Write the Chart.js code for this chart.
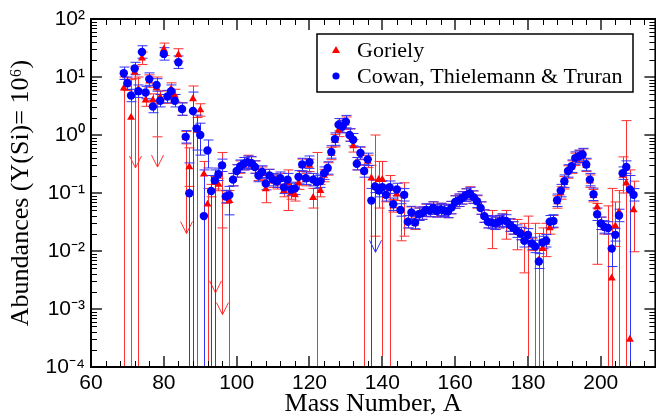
<!DOCTYPE html>
<html>
<head>
<meta charset="utf-8">
<script src="https://cdn.jsdelivr.net/npm/chart.js@4.4.0/dist/chart.umd.min.js"></script>
<style>
html, body { margin: 0; background: #fff; overflow: hidden; }
canvas { display: block; }
</style>
</head>
<body>
<!-- canvas is a little wider than the window: the right frame line falls just off the picture, as in the original -->
<canvas id="chartAbundances" width="660" height="420"></canvas>
<script>
// mass numbers shared by both data sets
var massNumbers = [
    69, 70, 71, 72, 73, 74, 75, 76, 77, 78,
    79, 80, 81, 82, 83, 84, 85, 86, 87, 88,
    89, 90, 91, 92, 93, 94, 95, 96, 97, 98,
    99, 100, 101, 102, 103, 104, 105, 106, 107, 108,
    109, 110, 111, 112, 113, 114, 115, 116, 117, 118,
    119, 120, 121, 122, 123, 124, 125, 126, 127, 128,
    129, 130, 131, 132, 133, 134, 135, 136, 137, 138,
    139, 140, 141, 142, 143, 144, 145, 146, 147, 148,
    149, 150, 151, 152, 153, 154, 155, 156, 157, 158,
    159, 160, 161, 162, 163, 164, 165, 166, 167, 168,
    169, 170, 171, 172, 173, 174, 175, 176, 177, 178,
    179, 180, 181, 182, 183, 184, 185, 186, 187, 188,
    189, 190, 191, 192, 193, 194, 195, 196, 197, 198,
    199, 200, 201, 202, 203, 204, 205, 206, 207, 208,
    209
];

var gorielyValues = [
    6.4, 7.5, 2.0, 12, 6.1, 21, 4.0, 8.5, 4.0, 6.5,
    4.5, 30, 4.5, 6.2, 4.8, 24, 2.8, 0.9, 0.28, 4.2,
    1.2, 2.7, 0.21, 0.064, 0.11, 0.15, 0.14, 0.3, 0.085, 0.074,
    0.17, 0.24, 0.28, 0.32, 0.35, 0.33, 0.28, 0.21, 0.22, 0.117,
    0.20, 0.16, 0.15, 0.17, 0.11, 0.15, 0.10, 0.093, 0.148, 0.30,
    0.17, 0.30, 0.083, 0.15, 0.11, 0.20, 0.26, 0.48, 0.8, 1.2,
    1.4, 1.6, 1.0, 0.65, 0.32, 0.48, 0.23, 0.35, 0.18, 0.13,
    0.17, 0.17, 0.09, 0.12, 0.06, 0.095, 0.05, 0.09, 0.032, 0.045,
    0.03, 0.043, 0.045, 0.05, 0.05, 0.055, 0.05, 0.052, 0.05, 0.048,
    0.056, 0.07, 0.075, 0.083, 0.093, 0.1, 0.085, 0.07, 0.055, 0.04,
    0.032, 0.031, 0.03, 0.032, 0.034, 0.033, 0.028, 0.025, 0.022, 0.02,
    0.015, 0.018, 0.013, 0.012, 0.007, 0.011, 0.014, 0.025, 0.032, 0.07,
    0.1, 0.15, 0.23, 0.28, 0.38, 0.42, 0.45, 0.3, 0.16, 0.09,
    0.057, 0.03, 0.025, 0.025, 0.0034, 0.027, 0.047, 0.2, 0.148, 0.0003,
    0.051
];

var cowanValues = [
    11.6, 7.8, 4.8, 14, 5.7, 27, 5.4, 9.2, 3.1, 7.3,
    3.9, 25, 4.6, 5.7, 3.9, 18, 2.8, 0.93, 0.099, 2.6,
    1.3, 1.0, 0.04, 0.54, 0.108, 0.165, 0.21, 0.30, 0.087, 0.092,
    0.17, 0.24, 0.29, 0.32, 0.34, 0.33, 0.28, 0.20, 0.23, 0.145,
    0.20, 0.17, 0.16, 0.18, 0.125, 0.17, 0.115, 0.12, 0.19, 0.31,
    0.18, 0.34, 0.17, 0.155, 0.16, 0.22, 0.27, 0.51, 0.85, 1.5,
    1.4, 1.7, 1.0, 0.83, 0.32, 0.49, 0.24, 0.38, 0.074, 0.13,
    0.11, 0.126, 0.093, 0.126, 0.064, 0.115, 0.051, 0.093, 0.032, 0.046,
    0.031, 0.043, 0.045, 0.051, 0.050, 0.055, 0.049, 0.052, 0.050, 0.048,
    0.056, 0.070, 0.075, 0.082, 0.092, 0.098, 0.085, 0.072, 0.055, 0.040,
    0.032, 0.031, 0.030, 0.032, 0.034, 0.033, 0.028, 0.025, 0.022, 0.020,
    0.015, 0.019, 0.0135, 0.012, 0.0066, 0.014, 0.015, 0.032, 0.033, 0.075,
    0.11, 0.16, 0.24, 0.29, 0.40, 0.43, 0.46, 0.31, 0.17, 0.095,
    0.043, 0.030, 0.026, 0.025, 0.011, 0.019, 0.041, 0.22, 0.28, 0.115,
    0.093
];

// typical error: the bar spans value / typicalError .. value * typicalError
var typicalError = 1.28;

// wide error bars: [A, lower, upper], lower 0 = down to the axis
var gorielyBars = [
    [69, 0, 10], [71, 0, 9], [73, 0, 10], [78, 0.93, 10], [87, 0.13, 0.6],
    [88, 0, 7], [89, 0, 2], [91, 0, 0.35], [92, 0, 0.12], [96, 0.025, 0.5],
    [98, 0, 0.11], [108, 0.068, 0.2], [114, 0.05, 0.25], [121, 0.055, 0.12],
    [122, 0, 0.5], [135, 0, 0.3], [137, 0, 0.3], [138, 0.018, 1.0], [139, 0.055, 0.35],
    [140, 0, 0.35], [142, 0, 0.2], [145, 0.015, 0.09], [146, 0.018, 0.15],
    [170, 0.011, 0.05], [174, 0.016, 0.05], [177, 0.0105, 0.035], [179, 0.0042, 0.03],
    [180, 0, 0.04], [182, 0, 0.03], [183, 0, 0.02], [184, 0, 0.025], [185, 0.008, 0.03],
    [199, 0.0059, 0.066], [202, 0, 0.06], [203, 0, 0.12], [204, 0.012, 0.07],
    [205, 0, 0.11], [206, 0.1, 0.42], [207, 0, 1.77], [208, 0, 0.25], [209, 0.0097, 0.16]
];

var cowanBars = [
    [87, 0, 0.33], [88, 0, 5.5], [89, 0.55, 2.2], [90, 0.45, 1.6], [91, 0, 0.25],
    [92, 0.27, 0.82], [93, 0, 0.2], [94, 0, 0.25], [98, 0.042, 0.13], [137, 0, 0.12],
    [183, 0.005, 0.009], [203, 0.0054, 0.02], [208, 0, 0.2]
];

// upper limits drawn as arrows: [A, from, to]
var gorielyArrows = [[72, 12, 0.27], [78, 0.93, 0.28], [86, 0.9, 0.02], [94, 0.15, 0.0019], [96, 0.025, 0.0008]];
var cowanArrows = [[138, 0.13, 0.0095]];

var xTickLabels = [60, 80, 100, 120, 140, 160, 180, 200];
var yTickValues = [1e-4, 1e-3, 1e-2, 1e-1, 1, 10, 100];

var supers = { '-': '\u207B', '0': '\u2070', '1': '\u00B9', '2': '\u00B2', '3': '\u00B3', '4': '\u2074', '6': '\u2076' };
function powerLabel(v) {
    var e = String(Math.round(Math.log10(v)));
    return '10' + e.split('').map(function(c) { return supers[c]; }).join('');
}

function findBar(list, a) {
    for (var i = 0; i < list.length; i++) {
        if (list[i][0] === a) return list[i];
    }
    return null;
}

function drawBars(ctx, chart, values, bars, color) {
    var xs = chart.scales.x, ys = chart.scales.y, area = chart.chartArea;
    ctx.strokeStyle = color;
    ctx.lineWidth = 1;
    massNumbers.forEach(function(a, i) {
        var v = values[i];
        var lo = v / typicalError, hi = v * typicalError;
        var b = findBar(bars, a);
        if (b) { lo = b[1]; hi = b[2]; }
        var px = Math.round(xs.getPixelForValue(a)) + 0.5;
        var pyHi = ys.getPixelForValue(hi);
        var pyLo = lo > 0 ? ys.getPixelForValue(lo) : area.bottom + 2;
        ctx.beginPath();
        ctx.moveTo(px, pyHi);
        ctx.lineTo(px, pyLo);
        ctx.moveTo(px - 5, pyHi);
        ctx.lineTo(px + 5, pyHi);
        if (lo > 0) {
            ctx.moveTo(px - 5, pyLo);
            ctx.lineTo(px + 5, pyLo);
        }
        ctx.stroke();
    });
}

function drawArrows(ctx, chart, arrows, color) {
    var xs = chart.scales.x, ys = chart.scales.y;
    ctx.strokeStyle = color;
    ctx.lineWidth = 1;
    arrows.forEach(function(ar) {
        var px = Math.round(xs.getPixelForValue(ar[0])) + 0.5;
        var y1 = ys.getPixelForValue(ar[1]);
        var y2 = ys.getPixelForValue(ar[2]);
        ctx.beginPath();
        ctx.moveTo(px, y1);
        ctx.lineTo(px, y2);
        ctx.moveTo(px - 6, y2 - 12);
        ctx.lineTo(px, y2);
        ctx.lineTo(px + 6, y2 - 12);
        ctx.stroke();
    });
}

var errorBarPlugin = {
    id: 'errorBars',
    beforeDatasetsDraw: function(chart) {
        var ctx = chart.ctx, area = chart.chartArea;
        ctx.save();
        ctx.beginPath();
        ctx.rect(area.left, area.top, area.right - area.left, area.bottom - area.top);
        ctx.clip();
        drawBars(ctx, chart, gorielyValues, gorielyBars, '#ff3030');
        drawArrows(ctx, chart, gorielyArrows, '#ff3030');
        drawBars(ctx, chart, cowanValues, cowanBars, '#3030ff');
        drawArrows(ctx, chart, cowanArrows, '#3030ff');
        ctx.restore();
    }
};

// frame with inward ticks on all four sides
var framePlugin = {
    id: 'frame',
    afterDraw: function(chart) {
        var ctx = chart.ctx, area = chart.chartArea;
        var xs = chart.scales.x, ys = chart.scales.y;
        ctx.save();
        ctx.strokeStyle = '#000';
        ctx.lineWidth = 1;
        ctx.beginPath();
        for (var t = 60; t <= 215; t += 4) {
            if ((t - 60) % 20 === 0) continue;
            var px = Math.round(xs.getPixelForValue(t)) + 0.5;
            ctx.moveTo(px, area.bottom); ctx.lineTo(px, area.bottom - 6);
            ctx.moveTo(px, area.top); ctx.lineTo(px, area.top + 6);
        }
        for (var d = -4; d < 2; d++) {
            for (var m = 2; m <= 9; m++) {
                var py = Math.round(ys.getPixelForValue(m * Math.pow(10, d))) + 0.5;
                ctx.moveTo(area.left, py); ctx.lineTo(area.left + 6, py);
                ctx.moveTo(area.right, py); ctx.lineTo(area.right - 6, py);
            }
        }
        ctx.stroke();
        ctx.strokeStyle = '#555';
        ctx.lineWidth = 2;
        ctx.beginPath();
        xTickLabels.forEach(function(t) {
            var px = Math.round(xs.getPixelForValue(t));
            ctx.moveTo(px, area.bottom); ctx.lineTo(px, area.bottom - 11);
            ctx.moveTo(px, area.top); ctx.lineTo(px, area.top + 11);
        });
        yTickValues.forEach(function(t) {
            var py = Math.round(ys.getPixelForValue(t));
            ctx.moveTo(area.left, py); ctx.lineTo(area.left + 11, py);
            ctx.moveTo(area.right, py); ctx.lineTo(area.right - 11, py);
        });
        ctx.stroke();
        ctx.strokeStyle = '#000';
        ctx.lineWidth = 2;
        ctx.strokeRect(area.left, area.top, area.right - area.left, area.bottom - area.top);
        ctx.restore();
    }
};

var legendPlugin = {
    id: 'boxLegend',
    afterDraw: function(chart) {
        var ctx = chart.ctx;
        ctx.save();
        ctx.fillStyle = '#fff';
        ctx.fillRect(317, 34, 316, 58);
        ctx.strokeStyle = '#000';
        ctx.lineWidth = 1.5;
        ctx.strokeRect(317, 34, 316, 58);
        ctx.fillStyle = '#ff0000';
        ctx.beginPath();
        ctx.moveTo(336, 46); ctx.lineTo(340, 53); ctx.lineTo(332, 53);
        ctx.closePath(); ctx.fill();
        ctx.fillStyle = '#0000ff';
        ctx.beginPath();
        ctx.arc(336, 76, 3.6, 0, Math.PI * 2);
        ctx.fill();
        ctx.fillStyle = '#000';
        ctx.font = '22px "Liberation Serif"';
        ctx.textBaseline = 'alphabetic';
        ctx.fillText('Goriely', 357, 57);
        ctx.fillText('Cowan, Thielemann & Truran', 357, 83);
        ctx.restore();
    }
};

var gorielyPoints = massNumbers.map(function(a, i) { return { x: a, y: gorielyValues[i] }; });
var cowanPoints = massNumbers.map(function(a, i) { return { x: a, y: cowanValues[i] }; });

var chartAbundances = new Chart(document.getElementById('chartAbundances').getContext('2d'), {
    type: 'scatter',
    data: {
        datasets: [{
            label: 'Goriely',
            data: gorielyPoints,
            pointStyle: 'triangle',
            pointRadius: 4.6,
            backgroundColor: '#ff0000',
            borderColor: '#ff0000',
            borderWidth: 0,
            order: 1
        }, {
            label: 'Cowan, Thielemann & Truran',
            data: cowanPoints,
            pointStyle: 'circle',
            pointRadius: 4.2,
            backgroundColor: '#0000ff',
            borderColor: '#0000ff',
            borderWidth: 0,
            order: 0
        }]
    },
    options: {
        responsive: false,
        animation: false,
        layout: { padding: { top: 19, right: 0, left: 0, bottom: 0 } },
        plugins: { legend: { display: false }, tooltip: { enabled: false } },
        scales: {
            x: {
                type: 'linear',
                min: 60,
                max: 215,
                grid: { display: false, drawTicks: false },
                border: { display: false },
                afterBuildTicks: function(s) { s.ticks = xTickLabels.map(function(v) { return { value: v }; }); },
                afterFit: function(s) { s.height = 53; },
                ticks: {
                    autoSkip: false, maxRotation: 0, padding: 4, color: '#000',
                    font: { family: 'Liberation Sans', size: 21 }
                },
                title: {
                    display: true, text: 'Mass Number, A', color: '#000', padding: 0,
                    font: { family: 'Liberation Serif', size: 26 }
                }
            },
            y: {
                type: 'logarithmic',
                min: 1e-4,
                max: 1e2,
                grid: { display: false, drawTicks: false },
                border: { display: false },
                afterBuildTicks: function(s) { s.ticks = yTickValues.map(function(v) { return { value: v }; }); },
                afterFit: function(s) { s.width = 91; },
                ticks: {
                    autoSkip: false, padding: 6, color: '#000',
                    font: { family: 'Liberation Sans', size: 21 },
                    callback: function(v) { return powerLabel(v); }
                },
                title: {
                    display: true, text: 'Abundances (Y(Si)= 10\u2076)', color: '#000', padding: { top: 6, bottom: 0 },
                    font: { family: 'Liberation Serif', size: 26 }
                }
            }
        }
    },
    plugins: [errorBarPlugin, framePlugin, legendPlugin]
});
</script>
</body>
</html>
